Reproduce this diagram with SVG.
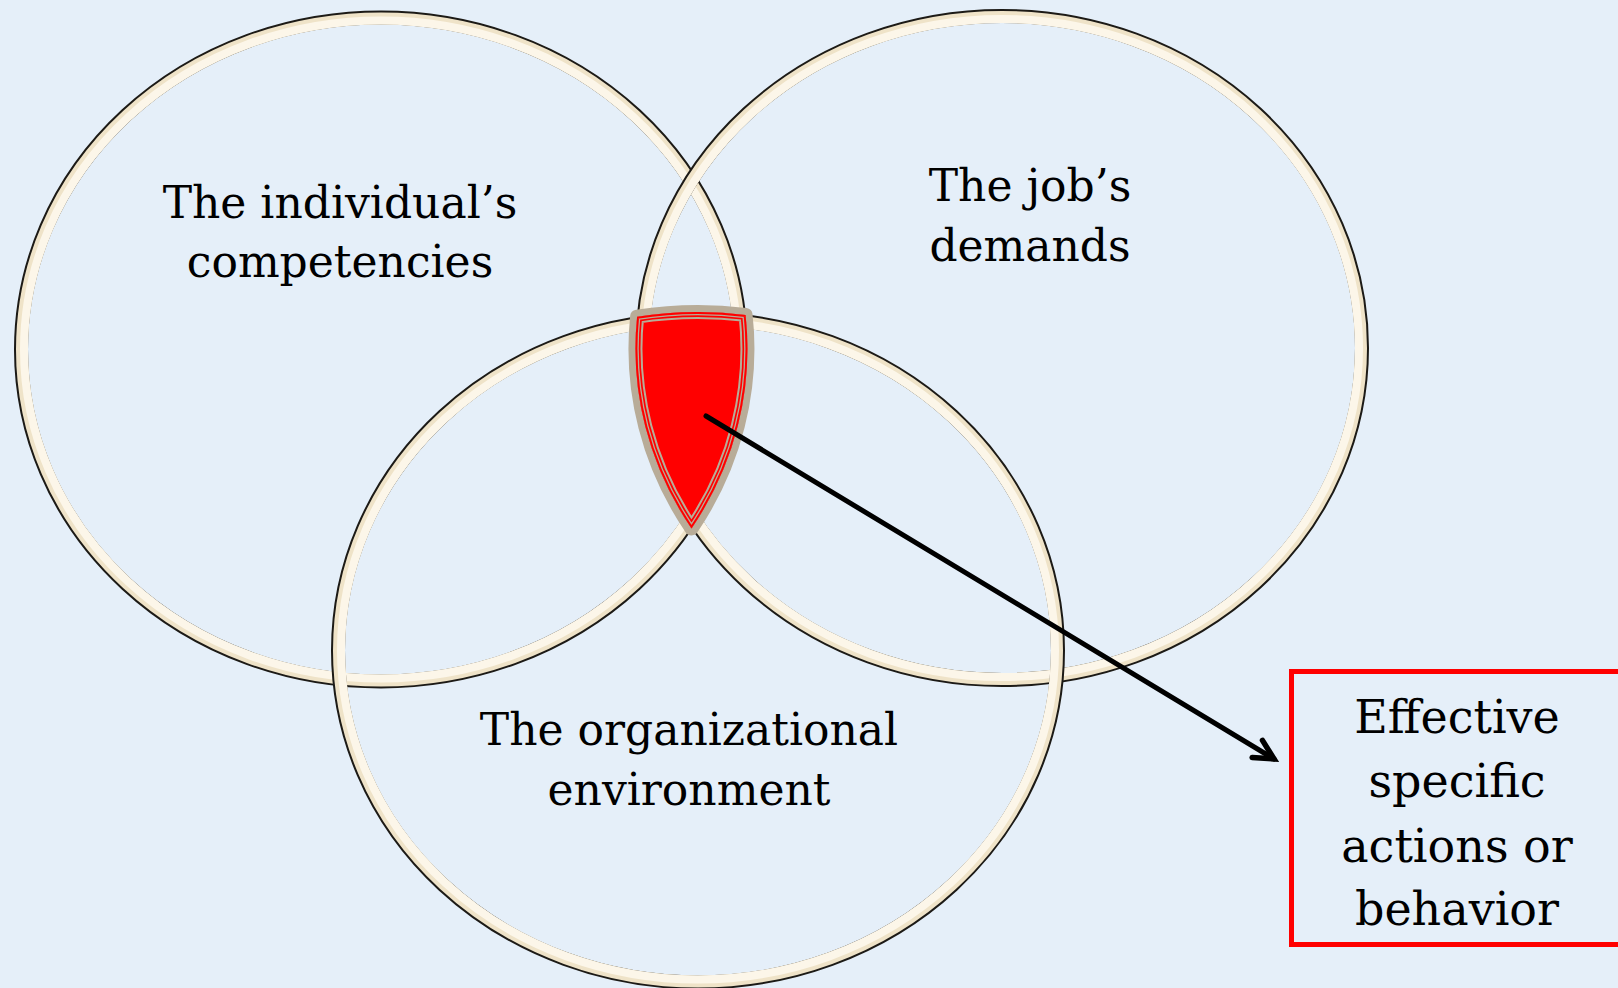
<svg xmlns="http://www.w3.org/2000/svg" width="1618" height="988" viewBox="0 0 1618 988">
  <defs>
    <style>
      .ring-edge { fill: none; stroke: #1c1a16; stroke-width: 14; }
      .ring-body { fill: none; stroke: #efe3c8; stroke-width: 12; }
      .ring-light { fill: none; stroke: #fcf6e9; stroke-width: 8; }
      .label { font-family: "DejaVu Serif", "Liberation Serif", serif; font-size: 44px; fill: #000; text-anchor: middle; }
      .label-box { font-size: 46px; }
      .lens-border { fill: #ff0000; stroke: #b8ac98; stroke-width: 14; stroke-linejoin: round; }
      .connector { fill: none; stroke: #000; stroke-width: 5; stroke-linecap: round; }
    </style>
    <path id="lensShape" d="M 637.1 316.7 A 366.5 338.5 0 0 1 745.6 314.9 A 366.5 338.5 0 0 1 691.5 528.5 A 366.5 338.5 0 0 1 637.1 316.7 Z"/>
    <clipPath id="lensClip"><use href="#lensShape"/></clipPath>
    <marker id="openArrow" markerUnits="userSpaceOnUse" markerWidth="40" markerHeight="40" refX="0" refY="0" viewBox="-30 -20 40 40" orient="auto">
      <path d="M -19.5 -10 L 0 0 L -19.5 10" fill="none" stroke="#000" stroke-width="5.5" stroke-linecap="round" stroke-linejoin="miter"/>
    </marker>
  </defs>

  <rect width="1618" height="988" fill="#e5eff9"/>

  <!-- competencies circle -->
  <g id="circle-individual">
    <ellipse class="ring-edge" cx="381" cy="349.5" rx="360" ry="332"/>
    <ellipse class="ring-body" cx="381" cy="349.5" rx="359" ry="331"/>
    <ellipse class="ring-light" cx="381" cy="349.5" rx="357" ry="329"/>
    <text class="label" x="340" y="218">The individual’s</text>
    <text class="label" x="340" y="277">competencies</text>
  </g>

  <!-- job demands circle -->
  <g id="circle-job">
    <ellipse class="ring-edge" cx="1002" cy="348" rx="360" ry="332"/>
    <ellipse class="ring-body" cx="1002" cy="348" rx="359" ry="331"/>
    <ellipse class="ring-light" cx="1002" cy="348" rx="357" ry="329"/>
    <text class="label" x="1030" y="201">The job’s</text>
    <text class="label" x="1030" y="261">demands</text>
  </g>

  <!-- organizational environment circle -->
  <g id="circle-organization">
    <ellipse class="ring-edge" cx="698" cy="650.5" rx="360" ry="332"/>
    <ellipse class="ring-body" cx="698" cy="650.5" rx="359" ry="331"/>
    <ellipse class="ring-light" cx="698" cy="650.5" rx="357" ry="329"/>
    <text class="label" x="689" y="745">The organizational</text>
    <text class="label" x="689" y="805">environment</text>
  </g>

  <!-- overlap of all three circles -->
  <g id="overlap">
    <use href="#lensShape" class="lens-border"/>
    <g clip-path="url(#lensClip)">
      <use href="#lensShape" fill="none" stroke="#ff0000" stroke-width="10"/>
      <use href="#lensShape" fill="none" stroke="#b8ac98" stroke-width="6.6"/>
      <use href="#lensShape" fill="none" stroke="#ff0000" stroke-width="4"/>
    </g>
  </g>

  <!-- outcome box -->
  <g id="outcome">
    <rect x="1291.5" y="671.5" width="400" height="273" fill="none" stroke="#ff0000" stroke-width="5"/>
    <text class="label label-box" x="1457" y="733">Effective</text>
    <text class="label label-box" x="1457" y="797">specific</text>
    <text class="label label-box" x="1457" y="862">actions or</text>
    <text class="label label-box" x="1457" y="925">behavior</text>
  </g>

  <g id="connectors">
    <line class="connector" x1="706" y1="416" x2="1274" y2="759" marker-end="url(#openArrow)"/>
  </g>
</svg>
